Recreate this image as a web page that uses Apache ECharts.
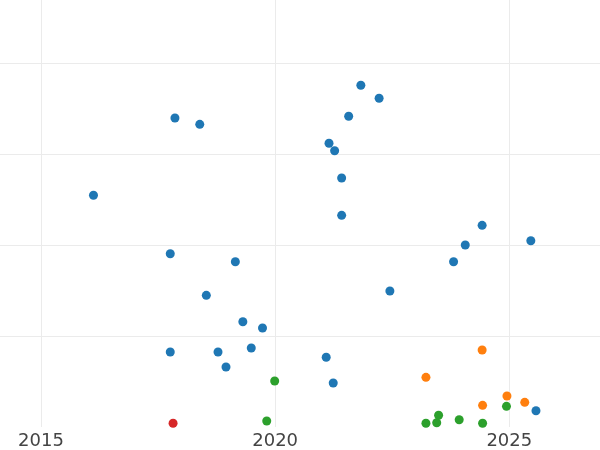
<!DOCTYPE html>
<html>
<head>
<meta charset="utf-8">
<script src="https://cdn.jsdelivr.net/npm/echarts@6/dist/echarts.min.js"></script>
<style>html,body{margin:0;padding:0;background:#fff}#c{width:600px;height:450px}</style>
</head>
<body>
<div id="c"></div>
<script>
const xTicks = [2015, 2020, 2025];
const blueX = [2016.12, 2017.86, 2018.39, 2021.83, 2022.22, 2021.57, 2021.15, 2021.27, 2021.42, 2021.42, 2024.42, 2025.46, 2024.06, 2023.81, 2017.76, 2019.15, 2022.45, 2018.53, 2019.31, 2019.73, 2017.76, 2018.78, 2019.49, 2018.95, 2021.09, 2021.24, 2025.57];
const blueY = [25.46, 33.96, 33.26, 37.55, 36.12, 34.14, 31.18, 30.36, 27.36, 23.26, 22.16, 20.47, 20.0, 18.16, 19.04, 18.16, 14.95, 14.47, 11.57, 10.88, 8.24, 8.24, 8.68, 6.59, 7.66, 4.84, 1.79];
const orangeX = [2024.42, 2023.22, 2024.95, 2025.33, 2024.43];
const orangeY = [8.46, 5.46, 3.41, 2.71, 2.38];
const greenX = [2019.99, 2019.82, 2023.22, 2023.45, 2023.49, 2023.93, 2024.43, 2024.94];
const greenY = [5.05, 0.66, 0.41, 0.47, 1.29, 0.80, 0.41, 2.27];
const redX = [2017.82];
const redY = [0.41];

function pairs(xs, ys) { return xs.map((x, i) => [x, ys[i]]); }

const chart = echarts.init(document.getElementById('c'), null, {renderer: 'canvas'});
const mk = (xs, ys, color) => ({
  type: 'scatter', data: pairs(xs, ys), symbolSize: 9,
  itemStyle: {color: color, opacity: 1}, silent: true
});
chart.setOption({
  animation: false,
  grid: {left: 0, right: 0, top: 0, bottom: 23, containLabel: false},
  xAxis: {
    type: 'value', min: 2014.124, max: 2026.937,
    axisLine: {show: false},
    axisTick: {show: false, customValues: xTicks},
    axisLabel: {customValues: xTicks, formatter: v => String(v), color: '#444', fontSize: 18, fontFamily: 'DejaVu Sans', margin: 5},
    splitLine: {show: true, lineStyle: {color: '#ebebeb', width: 1}}
  },
  yAxis: {
    type: 'value', min: 0, max: 46.92, interval: 10,
    axisLine: {show: false}, axisTick: {show: false}, axisLabel: {show: false},
    splitLine: {show: true, showMinLine: false, showMaxLine: false, lineStyle: {color: '#ebebeb', width: 1}}
  },
  series: [
    mk(blueX, blueY, '#1f77b4'),
    mk(orangeX, orangeY, '#ff7f0e'),
    mk(greenX, greenY, '#2ca02c'),
    mk(redX, redY, '#d62728')
  ]
});
</script>
</body>
</html>
